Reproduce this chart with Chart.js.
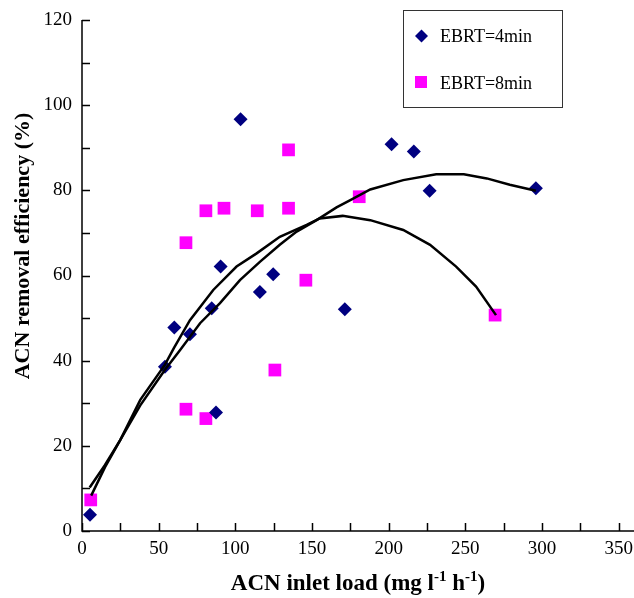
<!DOCTYPE html>
<html lang="en">
<head>
    <meta charset="UTF-8">
    <title>ACN removal efficiency vs inlet load</title>
    <script src="https://cdn.jsdelivr.net/npm/chart.js"></script>
    <style>
        body {
            margin: 0;
            background-color: #fff;
        }
        #wrap {
            width: 634px;
            height: 598px;
        }
    </style>
</head>
<body>
    <div id="wrap"><canvas id="chart" width="634" height="598"></canvas></div>

    <script>
        // EBRT = 4 min (diamonds)
        const load4 = [5.2, 54.1, 60.2, 70.4, 84.6, 90.4, 103.4, 87.4, 116.0, 124.7, 171.4, 201.9, 216.4, 226.7, 296.0];
        const eff4 = [3.8, 38.6, 47.8, 46.2, 52.3, 62.1, 96.7, 27.8, 56.1, 60.3, 52.1, 90.8, 89.1, 79.9, 80.5];

        // EBRT = 8 min (squares)
        const load8 = [5.7, 67.8, 80.8, 125.8, 67.8, 80.8, 92.6, 114.3, 134.7, 134.7, 146.0, 180.8, 269.4];
        const eff8 = [7.3, 28.6, 26.4, 37.8, 67.7, 75.2, 75.8, 75.2, 75.8, 89.5, 58.9, 78.5, 50.7];

        // trend curves through each series
        const fit4Load = [5, 15, 25, 38, 54, 64, 77, 90, 103, 116, 129, 140, 153, 166, 175, 188, 209.5, 231, 249, 264, 279, 296];
        const fit4Eff = [10.2, 15.5, 21.4, 29.5, 37.8, 42.5, 48.8, 53.5, 58.9, 63.2, 67.2, 70.3, 73.0, 76.0, 77.7, 80.2, 82.4, 83.8, 83.8, 82.8, 81.3, 79.9];
        const fit8Load = [6, 15, 25, 38, 54, 60, 70.4, 85.6, 100.8, 113.9, 129, 146.5, 155, 170, 188, 209.5, 227, 244, 257, 270];
        const fit8Eff = [8.3, 15.0, 21.4, 30.8, 39.0, 43.0, 49.5, 56.6, 62.1, 65.2, 69.1, 71.9, 73.4, 74.0, 73.0, 70.7, 67.2, 62.1, 57.4, 50.7];

        const xTicks = [0, 25, 50, 75, 100, 125, 150, 175, 200, 225, 250, 275, 300, 325, 350];
        const yTicks = [0, 10, 20, 30, 40, 50, 60, 70, 80, 90, 100, 110, 120];

        const legendItems = [
            { text: 'EBRT=4min', color: '#000080', style: 'diamond' },
            { text: 'EBRT=8min', color: '#ff00ff', style: 'square' }
        ];

        const serif = "'Liberation Serif', 'Times New Roman', serif";
        const pairs = (xs, ys) => xs.map((v, i) => ({ x: v, y: ys[i] }));

        // axis lines and inward tick marks
        const axesPlugin = {
            id: 'axes',
            beforeDatasetsDraw(chart) {
                const { ctx, chartArea: a, scales: { x, y } } = chart;
                ctx.save();
                ctx.strokeStyle = '#000';
                ctx.lineWidth = 1.5;
                ctx.beginPath();
                ctx.moveTo(a.left, a.top);
                ctx.lineTo(a.left, a.bottom);
                ctx.lineTo(a.right, a.bottom);
                xTicks.forEach(v => {
                    const px = Math.round(x.getPixelForValue(v)) + 0.5;
                    ctx.moveTo(px, a.bottom);
                    ctx.lineTo(px, a.bottom - 8);
                });
                yTicks.forEach(v => {
                    const py = Math.round(y.getPixelForValue(v)) + 0.5;
                    ctx.moveTo(a.left, py);
                    ctx.lineTo(a.left + 8, py);
                });
                ctx.stroke();
                ctx.restore();
            }
        };

        // axis titles (with superscripts) and the boxed legend
        const labelsPlugin = {
            id: 'labels',
            afterDraw(chart) {
                const { ctx, chartArea: a } = chart;
                ctx.save();
                ctx.fillStyle = '#000';
                ctx.textBaseline = 'alphabetic';

                // x title
                const big = 'bold 23px ' + serif;
                const sup = 'bold 15px ' + serif;
                const parts = [
                    ['ACN inlet load (mg l', big, 0],
                    ['-1', sup, -9],
                    [' h', big, 0],
                    ['-1', sup, -9],
                    [')', big, 0]
                ];
                let total = 0;
                parts.forEach(p => { ctx.font = p[1]; total += ctx.measureText(p[0]).width; });
                let tx = (a.left + a.right) / 2 - total / 2;
                parts.forEach(p => {
                    ctx.font = p[1];
                    ctx.textAlign = 'left';
                    ctx.fillText(p[0], tx, 590 + p[2]);
                    tx += ctx.measureText(p[0]).width;
                });

                // y title
                ctx.save();
                ctx.translate(29, 246);
                ctx.rotate(-Math.PI / 2);
                ctx.font = 'bold 22px ' + serif;
                ctx.textAlign = 'center';
                ctx.fillText('ACN removal efficiency (%)', 0, 0);
                ctx.restore();

                // legend box
                ctx.strokeStyle = '#333';
                ctx.lineWidth = 1;
                ctx.fillStyle = '#fff';
                ctx.fillRect(403.5, 10.5, 159, 97);
                ctx.strokeRect(403.5, 10.5, 159, 97);
                legendItems.forEach((item, i) => {
                    const cy = 36 + i * 47;
                    ctx.fillStyle = item.color;
                    if (item.style === 'diamond') {
                        ctx.beginPath();
                        ctx.moveTo(421.5, cy - 6.5);
                        ctx.lineTo(428, cy);
                        ctx.lineTo(421.5, cy + 6.5);
                        ctx.lineTo(415, cy);
                        ctx.closePath();
                        ctx.fill();
                    } else {
                        ctx.fillRect(415, cy - 7, 12, 12);
                    }
                    ctx.fillStyle = '#000';
                    ctx.font = '18px ' + serif;
                    ctx.textAlign = 'left';
                    ctx.fillText(item.text, 440, cy + 6);
                });
                ctx.restore();
            }
        };

        const tickFont = { family: serif, size: 19 };

        new Chart(document.getElementById('chart'), {
            type: 'scatter',
            data: {
                datasets: [
                    {
                        data: pairs(fit4Load, fit4Eff),
                        showLine: true,
                        borderColor: '#000',
                        borderWidth: 2.5,
                        pointRadius: 0,
                        tension: 0
                    },
                    {
                        data: pairs(fit8Load, fit8Eff),
                        showLine: true,
                        borderColor: '#000',
                        borderWidth: 2.5,
                        pointRadius: 0,
                        tension: 0
                    },
                    {
                        label: legendItems[0].text,
                        data: pairs(load4, eff4),
                        pointStyle: 'rectRot',
                        pointRadius: 7,
                        backgroundColor: '#000080',
                        borderColor: '#000080',
                        borderWidth: 0
                    },
                    {
                        label: legendItems[1].text,
                        data: pairs(load8, eff8),
                        pointStyle: 'rect',
                        pointRadius: 9,
                        backgroundColor: '#ff00ff',
                        borderColor: '#ff00ff',
                        borderWidth: 0
                    }
                ]
            },
            options: {
                responsive: false,
                animation: false,
                layout: {
                    autoPadding: false,
                    padding: { top: 20, right: 0, left: 0, bottom: 0 }
                },
                plugins: {
                    legend: { display: false },
                    tooltip: { enabled: false }
                },
                scales: {
                    x: {
                        type: 'linear',
                        min: 0,
                        max: 360,
                        afterBuildTicks: s => { s.ticks = xTicks.map(v => ({ value: v })); },
                        afterFit: s => {
                            s.height = 67;
                            s.paddingLeft = 0;
                            s.paddingRight = 0;
                        },
                        grid: { display: false, drawTicks: false },
                        border: { display: false },
                        ticks: {
                            autoSkip: false,
                            maxRotation: 0,
                            padding: 7,
                            color: '#000',
                            font: tickFont,
                            callback: v => (v % 50 === 0 ? v : '')
                        }
                    },
                    y: {
                        type: 'linear',
                        min: 0,
                        max: 120,
                        afterBuildTicks: s => { s.ticks = yTicks.map(v => ({ value: v })); },
                        afterFit: s => {
                            s.width = 82;
                            s.paddingTop = 0;
                            s.paddingBottom = 0;
                        },
                        grid: { display: false, drawTicks: false },
                        border: { display: false },
                        ticks: {
                            autoSkip: false,
                            padding: 10,
                            color: '#000',
                            font: tickFont,
                            callback: v => (v % 20 === 0 ? v : '')
                        }
                    }
                }
            },
            plugins: [axesPlugin, labelsPlugin]
        });
    </script>
</body>
</html>
